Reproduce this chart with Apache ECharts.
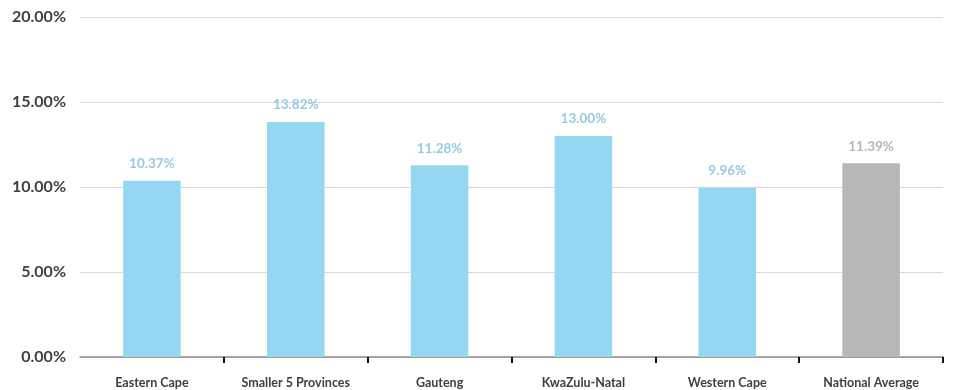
<!DOCTYPE html>
<html>
<head>
<meta charset="utf-8">
<script src="https://cdn.jsdelivr.net/npm/echarts@6/dist/echarts.min.js"></script>
<style>
  html, body { margin: 0; padding: 0; background: #ffffff; }
  #chart { width: 959px; height: 390px; }
</style>
</head>
<body>
<div id="chart"></div>
<script>
// Rates by region, in percent
const categories = ['Eastern Cape', 'Smaller 5 Provinces', 'Gauteng', 'KwaZulu-Natal', 'Western Cape', 'National Average'];
const values = [10.37, 13.82, 11.28, 13.00, 9.96, 11.39];
const yTicks = [0, 5, 10, 15, 20];

const blue = '#95D6F0';
const blueLabel = '#96C9E4';
const grey = '#B8B6B7';
const fontFamily = 'Lato, "Open Sans", sans-serif';

const barData = values.map(function (v, i) {
  const isAvg = categories[i] === 'National Average';
  return {
    value: v,
    itemStyle: { color: isAvg ? grey : blue },
    label: { color: isAvg ? grey : blueLabel }
  };
});

const chart = echarts.init(document.getElementById('chart'));
chart.setOption({
  animation: false,
  grid: { left: 80, right: 16, top: 17, bottom: 33, containLabel: false },
  xAxis: {
    type: 'category',
    data: categories,
    axisLine: { show: true, lineStyle: { color: '#8c8c8c', width: 1.5 } },
    axisTick: {
      show: true, length: 6, lineStyle: { color: '#111', width: 2 },
      // no tick at the left edge of the first category
      interval: function (index) { return index !== 0; }
    },
    axisLabel: {
      color: '#404040', fontFamily: fontFamily, fontWeight: 'bold', fontSize: 12.5, margin: 19
    }
  },
  yAxis: {
    type: 'value',
    min: yTicks[0],
    max: yTicks[yTicks.length - 1],
    interval: yTicks[1] - yTicks[0],
    axisLine: { show: false },
    axisTick: { show: false },
    splitLine: { lineStyle: { color: '#d9d9d9', width: 1 } },
    axisLabel: {
      color: '#404040', fontFamily: fontFamily, fontWeight: 'bold', fontSize: 16, margin: 14,
      formatter: function (v) { return v.toFixed(2) + '%'; }
    }
  },
  series: [{
    type: 'bar',
    data: barData,
    barWidth: '40%',
    label: {
      show: true,
      position: 'top',
      distance: 10,
      fontFamily: fontFamily,
      fontWeight: 'bold',
      fontSize: 13.5,
      formatter: function (p) { return p.value.toFixed(2) + '%'; }
    }
  }]
});
</script>
</body>
</html>
